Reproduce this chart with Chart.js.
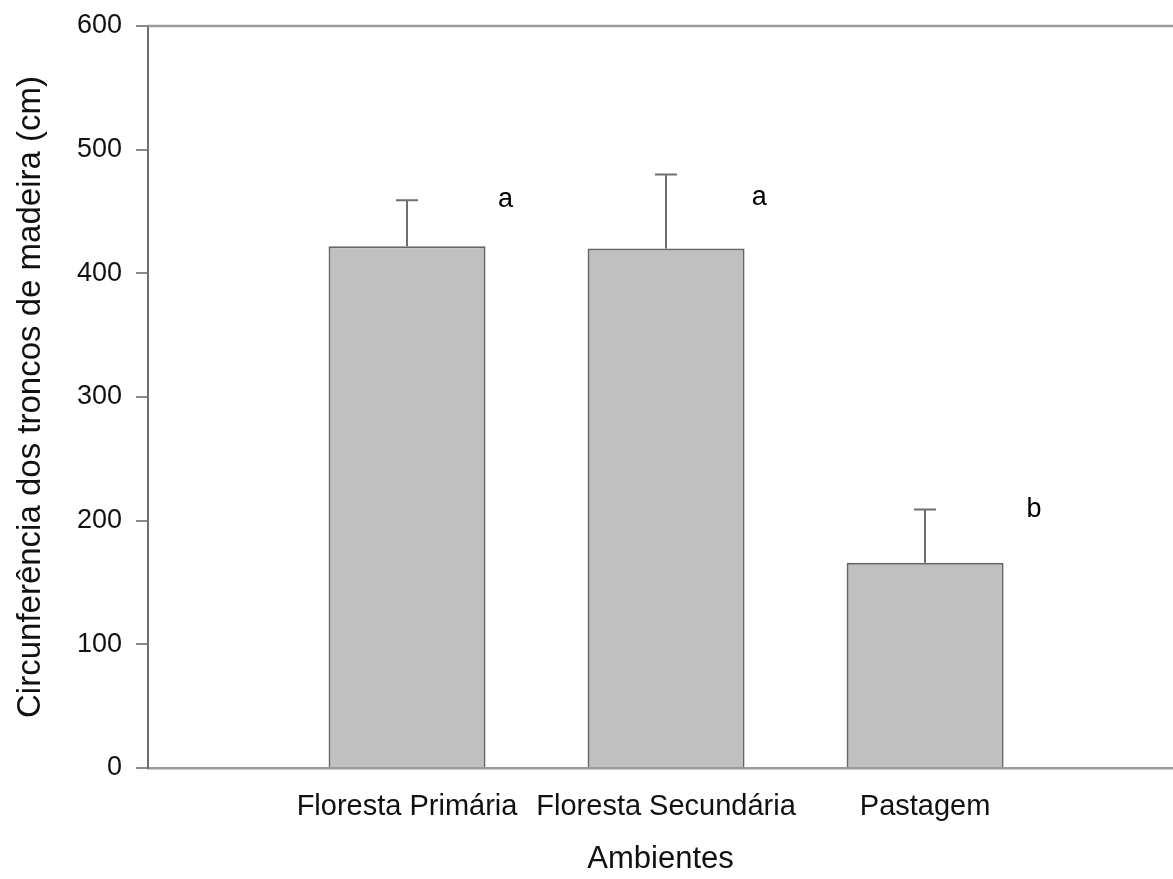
<!DOCTYPE html>
<html>
<head>
<meta charset="utf-8">
<script src="https://cdn.jsdelivr.net/npm/chart.js@4/dist/chart.umd.min.js"></script>
<style>
  html, body { margin: 0; padding: 0; background: #fff; overflow: hidden; }
  #wrap { width: 1173px; height: 879px; }
</style>
</head>
<body>
<div id="wrap"><canvas id="grafica"></canvas></div>
<script>
// datos
const ambientes = ['Floresta Primária', 'Floresta Secundária', 'Pastagem'];
const posiciones = [1, 2, 3];
const medias = [422, 420, 166];
const erroSuperior = [459, 480, 209];
const letras = ['a', 'a', 'b'];
const letrasX = [1.38, 2.36, 3.42];
const letrasY = [460, 461, 209];
const ticksY = [0, 100, 200, 300, 400, 500, 600];

const fuente = "'Liberation Sans', Arial, sans-serif";

// barras de error y letras
const extras = {
    id: 'extras',
    afterDatasetsDraw(chart) {
        const ctx = chart.ctx;
        const x = chart.scales.x;
        const y = chart.scales.y;
        ctx.save();
        ctx.strokeStyle = '#6e6e6e';
        ctx.lineWidth = 2;
        for (let i = 0; i < medias.length; i++) {
            const px = Math.round(x.getPixelForValue(posiciones[i]));
            const y0 = y.getPixelForValue(medias[i]);
            const y1 = y.getPixelForValue(erroSuperior[i]);
            ctx.beginPath();
            ctx.moveTo(px, y0);
            ctx.lineTo(px, y1);
            ctx.moveTo(px - 11, y1);
            ctx.lineTo(px + 11, y1);
            ctx.stroke();
        }
        ctx.fillStyle = '#000';
        ctx.font = '27px ' + fuente;
        ctx.textAlign = 'center';
        ctx.textBaseline = 'middle';
        for (let i = 0; i < letras.length; i++) {
            ctx.fillText(letras[i], x.getPixelForValue(letrasX[i]), y.getPixelForValue(letrasY[i]));
        }
        // linea superior
        const area = chart.chartArea;
        ctx.strokeStyle = '#9a9a9a';
        ctx.lineWidth = 2.5;
        ctx.beginPath();
        ctx.moveTo(area.left, area.top);
        ctx.lineTo(area.right, area.top);
        ctx.stroke();
        ctx.restore();
    }
};

new Chart(document.getElementById('grafica'), {
    type: 'bar',
    data: {
        datasets: [{
            data: posiciones.map((p, i) => ({ x: p, y: medias[i] })),
            backgroundColor: '#c0c0c0',
            borderColor: '#666',
            borderWidth: 2,
            barPercentage: 0.606,
            categoryPercentage: 1
        }]
    },
    options: {
        responsive: true,
        maintainAspectRatio: false,
        animation: false,
        layout: { padding: { left: 0, top: 26, right: 0, bottom: 0 } },
        plugins: {
            legend: { display: false },
            tooltip: { enabled: false }
        },
        scales: {
            x: {
                type: 'linear',
                offset: false,
                min: 0,
                max: 3.957,
                afterBuildTicks: function(scale) {
                    scale.ticks = posiciones.map(v => ({ value: v }));
                },
                afterFit: function(scale) {
                    scale.height = 111;
                    scale.paddingLeft = 0;
                    scale.paddingRight = 0;
                },
                grid: { display: false, offset: false },
                border: { display: true, color: '#9a9a9a', width: 2.5 },
                ticks: {
                    autoSkip: false,
                    maxRotation: 0,
                    padding: 14,
                    color: '#111',
                    font: { family: fuente, size: 29 },
                    callback: function(v) { return ambientes[posiciones.indexOf(v)] || ''; }
                },
                title: {
                    display: true,
                    text: 'Ambientes',
                    color: '#111',
                    font: { family: fuente, size: 31 },
                    padding: { top: 0, bottom: 1 }
                }
            },
            y: {
                min: 0,
                max: 600,
                afterBuildTicks: function(scale) {
                    scale.ticks = ticksY.map(v => ({ value: v }));
                },
                afterFit: function(scale) {
                    scale.width = 148;
                    scale.paddingTop = 0;
                    scale.paddingBottom = 0;
                },
                grid: {
                    drawOnChartArea: false,
                    drawTicks: true,
                    tickLength: 12,
                    color: '#8a8a8a',
                    lineWidth: 2
                },
                border: { display: true, color: '#6e6e6e', width: 2 },
                ticks: {
                    padding: 14,
                    color: '#111',
                    font: { family: fuente, size: 27 }
                },
                title: {
                    display: true,
                    text: 'Circunferência dos troncos de madeira (cm)',
                    color: '#111',
                    font: { family: fuente, size: 33 },
                    padding: { top: 11, bottom: 0 }
                }
            }
        }
    },
    plugins: [extras]
});
</script>
</body>
</html>
